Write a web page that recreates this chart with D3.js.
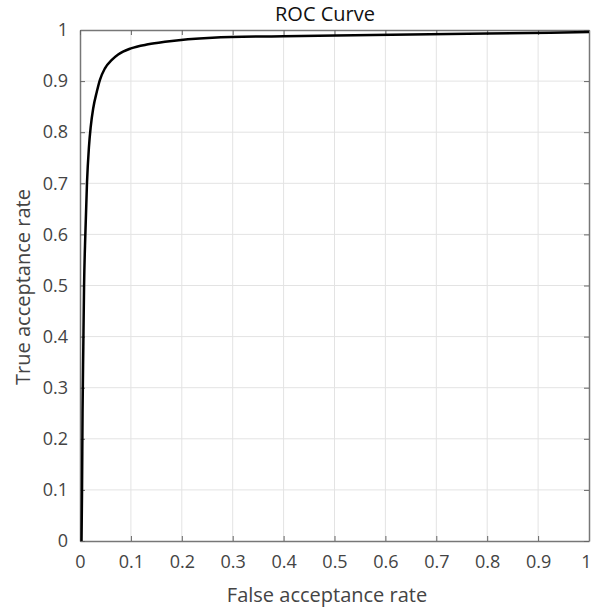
<!DOCTYPE html>
<html>
<head>
<meta charset="utf-8">
<script src="https://cdn.jsdelivr.net/npm/d3@7"></script>
<style>
  body { margin: 0; background: #fff; }
  svg text { font-family: "Open Sans", sans-serif; }
  .tick text { fill: #444; font-size: 18px; }
  .tick line { stroke: #666; }
  .grid line { stroke: #e3e3e3; }
  .domain { stroke: #777; }
</style>
</head>
<body>
<div id="chart"></div>
<script>
// ROC curve points
const fpr = [0.003, 0.004, 0.005, 0.0065, 0.008, 0.0105, 0.0137, 0.0175, 0.021, 0.026,
  0.033, 0.039, 0.049, 0.062, 0.075, 0.1, 0.134, 0.167, 0.212, 0.26, 0.4, 0.575, 0.8, 1.0];
const tpr = [0, 0.1, 0.25, 0.38, 0.5, 0.6, 0.7, 0.77, 0.81, 0.847,
  0.879, 0.902, 0.925, 0.941, 0.952, 0.964, 0.972, 0.977, 0.982, 0.985, 0.988, 0.990, 0.993, 0.996];
const tickVals = [0, 0.1, 0.2, 0.3, 0.4, 0.5, 0.6, 0.7, 0.8, 0.9, 1];

const width = 591, height = 611;
const margin = {top: 30, right: 2, bottom: 70, left: 80};
const w = width - margin.left - margin.right;
const h = height - margin.top - margin.bottom;

const svg = d3.select('#chart').append('svg')
  .attr('width', width)
  .attr('height', height);

const g = svg.append('g')
  .attr('transform', `translate(${margin.left},${margin.top})`);

const x = d3.scaleLinear().domain([0, 1]).range([0, w]);
const y = d3.scaleLinear().domain([0, 1]).range([h, 0]);

const fmt = d => d === 0 || d === 1 ? d3.format('d')(d) : d3.format('.1f')(d);

// grid
g.append('g').attr('class', 'grid')
  .selectAll('line').data(tickVals.slice(1, -1)).enter()
  .append('line')
  .attr('x1', d => x(d)).attr('x2', d => x(d))
  .attr('y1', 0).attr('y2', h);
g.append('g').attr('class', 'grid')
  .selectAll('line').data(tickVals.slice(1, -1)).enter()
  .append('line')
  .attr('y1', d => y(d)).attr('y2', d => y(d))
  .attr('x1', 0).attr('x2', w);

// axes (matlab style, ticks pointing in, box on)
const xAx = g.append('g')
  .attr('transform', `translate(0,${h})`)
  .call(d3.axisBottom(x).tickValues(tickVals).tickSizeInner(-5).tickSizeOuter(0).tickPadding(14).tickFormat(fmt));
// last label sits on the window edge, keep it inside
xAx.selectAll('.tick text').filter(d => d === 1).attr('text-anchor', 'end').attr('dx', 2);

g.append('g')
  .call(d3.axisLeft(y).tickValues(tickVals).tickSizeInner(-5).tickSizeOuter(0).tickPadding(12).tickFormat(fmt));
g.append('g')
  .call(d3.axisTop(x).tickValues(tickVals).tickSizeInner(-5).tickSizeOuter(0).tickFormat(''));
g.append('g')
  .attr('transform', `translate(${w},0)`)
  .call(d3.axisRight(y).tickValues(tickVals).tickSizeInner(-5).tickSizeOuter(0).tickFormat(''));

g.selectAll('.domain').attr('stroke-width', 1.5);

// curve
const pts = fpr.map((d, i) => [d, tpr[i]]);
const line = d3.line()
  .curve(d3.curveMonotoneX)
  .x(d => x(d[0]))
  .y(d => y(d[1]));

g.append('path')
  .datum(pts)
  .attr('fill', 'none')
  .attr('stroke', '#000')
  .attr('stroke-width', 2.5)
  .attr('d', line);

// labels
svg.append('text')
  .attr('x', 325)
  .attr('y', 21)
  .attr('text-anchor', 'middle')
  .attr('font-size', 20)
  .attr('fill', '#111')
  .text('ROC Curve');

svg.append('text')
  .attr('x', 327)
  .attr('y', 602)
  .attr('text-anchor', 'middle')
  .attr('font-size', 20)
  .attr('fill', '#444')
  .text('False acceptance rate');

svg.append('text')
  .attr('transform', `translate(30,287) rotate(-90)`)
  .attr('text-anchor', 'middle')
  .attr('font-size', 20)
  .attr('fill', '#444')
  .text('True acceptance rate');
</script>
</body>
</html>
